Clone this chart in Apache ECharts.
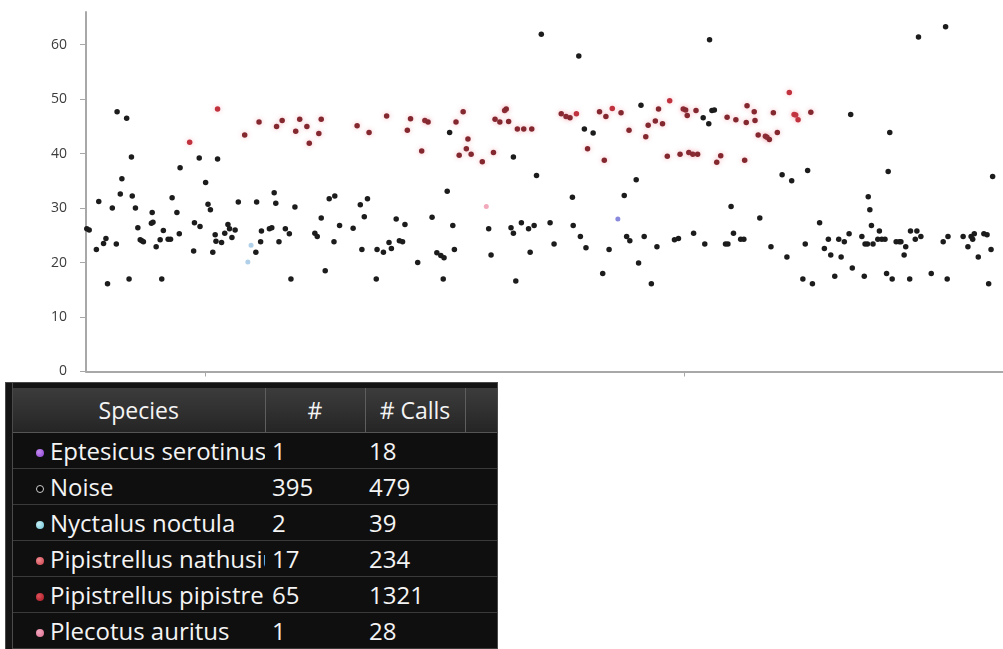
<!DOCTYPE html>
<html>
<head>
<meta charset="utf-8">
<script src="https://cdn.jsdelivr.net/npm/echarts@6/dist/echarts.min.js"></script>
<style>
html,body{margin:0;padding:0;background:#fff;width:1003px;height:649px;overflow:hidden;}
#chart{position:absolute;left:0;top:0;width:1003px;height:649px;}
#tbl{position:absolute;left:5px;top:382px;width:493px;height:280px;background:#141414;border:1px solid #4a4a4a;box-sizing:border-box;overflow:hidden;}
#tbl .edge{position:absolute;left:6px;top:0;width:1px;height:100%;background:#4a4a4a;}
#tbl table{position:absolute;left:7px;top:5px;width:485px;border-collapse:collapse;font-family:"Open Sans","Noto Sans",sans-serif;font-size:24px;color:#f4f4f4;table-layout:fixed;}
#tbl th{height:44px;font-weight:normal;font-size:23px;background:linear-gradient(#3c3c3c,#252525);border-right:1px solid #5e5e5e;border-bottom:1px solid #555;text-align:center;padding:0;overflow:hidden;}
#tbl td{height:35px;border-bottom:1px solid #3a3a3a;padding:0 0 0 7px;white-space:nowrap;overflow:hidden;text-overflow:clip;background:#0f0f0f;line-height:34px;}
#tbl td.sp{padding-left:23px;}
#tbl td.cl{padding-left:4px;}
.dot{display:inline-block;width:8px;height:8px;border-radius:50%;margin-right:6px;vertical-align:3px;}
</style>
</head>
<body>
<div id="chart"></div>
<div id="tbl"><div class="edge"></div></div>
<script>
// ---- scatter data: [minutes since start, peak frequency kHz] ----
const noiseCalls = [
[3.9,47.7],[5.1,46.5],[16.5,39.0],[5.7,39.4],[14.2,39.2],[11.8,37.4],[4.5,35.4],[15.0,34.7],[4.3,32.6],[5.8,32.2],[10.8,31.9],[1.6,31.2],[3.3,30.0],[6.2,30.0],[8.3,29.2],[11.4,29.2],[15.3,30.7],[15.6,29.7],[0.1,26.2],[0.4,26.0],[8.2,27.2],[8.4,27.4],[13.6,27.3],[14.3,26.6],[6.5,26.4],[9.7,25.9],[16.2,25.1],[2.5,24.4],[2.2,23.5],[3.8,23.4],[1.3,22.4],[6.8,24.2],[7.0,24.0],[7.2,23.8],[9.3,24.2],[10.3,24.3],[10.6,24.3],[11.7,25.3],[8.8,22.9],[13.5,22.1],[15.9,21.9],[16.3,23.9],[2.7,16.1],[5.4,17.0],[9.5,17.0],[17.0,23.7],
[19.1,31.1],[21.4,31.1],[23.6,32.8],[23.8,30.9],[26.2,30.2],[29.5,28.2],[30.5,31.7],[31.2,32.2],[31.8,26.8],[17.8,27.0],[18.0,26.2],[17.4,25.4],[18.7,26.0],[18.3,24.6],[22.0,25.8],[23.0,26.2],[23.3,26.4],[21.9,23.8],[24.2,23.8],[25.0,26.2],[25.5,25.3],[28.7,25.4],[29.0,24.8],[31.1,23.8],[21.3,21.9],[25.7,17.0],[30.0,18.5],
[45.6,43.9],[45.3,33.1],[35.3,31.7],[34.4,30.6],[34.9,28.4],[33.5,26.3],[38.9,28.0],[40.0,27.0],[43.4,28.3],[46.0,26.8],[34.6,22.4],[36.5,22.4],[37.3,21.9],[38.0,23.7],[38.3,22.6],[39.3,24.0],[39.7,23.8],[41.6,20.0],[44.0,21.8],[44.5,21.3],[44.9,20.9],[46.2,22.4],[36.4,17.0],[44.8,17.0],
[57.1,61.9],[61.8,57.9],[62.5,44.5],[63.6,43.8],[53.6,39.4],[56.5,36.0],[61.0,32.0],[50.5,26.2],[53.3,26.4],[53.6,25.4],[54.6,27.3],[55.5,26.2],[56.2,26.8],[58.2,27.3],[61.1,26.8],[62.0,24.8],[62.7,22.7],[58.7,23.4],[55.7,21.9],[50.8,21.4],[65.6,22.4],[64.8,18.0],[53.9,16.6],
[78.2,60.9],[69.6,48.9],[78.5,47.9],[78.8,48.0],[77.4,46.6],[78.1,45.5],[69.0,35.2],[67.5,32.3],[80.9,30.3],[67.8,24.8],[68.2,24.0],[70.0,24.8],[71.6,22.9],[73.8,24.2],[74.3,24.4],[76.2,25.4],[77.6,23.4],[80.2,23.4],[80.5,23.4],[81.2,25.4],[82.1,24.3],[82.5,24.3],[69.3,19.9],[70.9,16.1],
[95.9,47.2],[87.3,36.1],[88.5,35.0],[90.5,36.9],[98.1,32.1],[98.3,29.7],[84.5,28.2],[92.0,27.3],[85.9,22.9],[90.2,23.4],[87.9,21.0],[93.1,24.3],[92.6,22.6],[93.4,21.4],[94.4,24.3],[95.1,23.8],[94.7,21.0],[95.7,25.3],[97.3,24.8],[97.7,23.4],[98.0,23.4],[98.7,23.4],[98.5,26.8],[99.3,24.3],[96.1,19.0],[89.9,17.0],[91.1,16.1],[93.9,17.5],[97.6,17.5],
[104.4,61.4],[107.8,63.3],[100.8,43.9],[100.6,36.7],[113.7,35.8],[99.5,25.8],[99.8,24.3],[100.2,24.3],[101.6,23.8],[102.0,23.8],[102.2,23.8],[102.8,22.9],[102.6,21.4],[103.4,25.8],[104.2,25.8],[104.0,24.3],[104.7,24.8],[107.5,23.8],[108.1,24.8],[110.0,24.8],[110.6,22.9],[111.0,24.8],[111.4,25.3],[111.2,24.3],[111.9,21.0],[112.6,25.3],[113.0,25.1],[113.5,22.4],[100.4,18.0],[101.1,17.0],[103.3,17.0],[106.0,18.0],[108.0,17.0],[113.2,16.1]
];
const pipistrellusPipistrellusCalls = [
[21.7,45.8],[19.9,43.4],[23.9,45.0],[24.6,46.1],[26.8,46.3],[26.3,44.1],[27.7,45.0],[29.5,46.3],[29.2,43.7],[28.0,41.9],
[34.0,45.1],[35.5,43.9],[37.7,46.9],[40.7,46.4],[40.3,44.3],[42.5,46.1],[42.9,45.8],[42.1,40.5],[47.3,47.7],[46.4,45.8],[47.9,42.7],[47.7,40.9],[48.3,39.9],[46.8,39.7],[49.7,38.5],
[52.5,47.9],[52.7,48.2],[51.3,46.3],[51.9,45.8],[53.0,45.9],[54.1,44.5],[54.9,44.5],[55.9,44.5],[59.6,47.3],[60.2,46.8],[60.7,46.6],[62.9,40.9],[64.4,47.7],[65.2,46.8],[65.0,38.8],[51.1,40.2],
[67.1,47.5],[71.8,48.2],[74.9,48.2],[75.2,48.0],[75.4,47.0],[76.5,47.9],[80.4,46.7],[81.5,46.2],[82.8,45.7],[82.9,48.8],[71.4,46.0],[72.3,45.5],[70.5,45.2],[68.1,44.3],[70.2,43.1],[72.9,39.5],[74.5,39.9],[75.6,40.2],[76.1,39.9],[76.7,39.9],[79.6,39.6],[79.1,38.4],[82.6,38.8],
[83.8,47.7],[83.9,46.1],[86.2,47.5],[90.9,47.6],[84.3,43.4],[85.2,43.2],[85.4,43.0],[85.7,42.6],[86.7,43.9]
];
const pipistrellusNathusiusCalls = [[13.0,42.1],[16.5,48.2],[61.5,47.3],[66.0,48.3],[73.2,49.7],[88.2,51.2],[88.8,47.2],[89.0,47.1],[89.3,46.2]];
const nyctalusCalls = [[20.3,20.1],[20.7,23.2]];
const eptesicusCalls = [[66.7,28.0]];
const plecotusCalls = [[50.2,30.3]];

// ---- axis ticks ----
const yTickValues = [0,10,20,30,40,50,60];
const xTickValues = [15,75];

// ---- summary table ----
const speciesNames = ["Eptesicus serotinus","Noise","Nyctalus noctula","Pipistrellus nathusius","Pipistrellus pipistrellus","Plecotus auritus"];
const speciesCounts = [1,395,2,17,65,1];
const speciesCallCounts = [18,479,39,234,1321,28];
const tableHeaders = ["Species","#","# Calls",""];

// styles (kept apart from data)
const speciesDotStyles = [
  "background:radial-gradient(circle at 35% 35%,#c48cf0,#8a3fd0);",
  "background:#000;border:1px solid #cfcfcf;box-sizing:border-box;",
  "background:radial-gradient(circle at 35% 35%,#c6eef5,#6cc4d6);",
  "background:radial-gradient(circle at 35% 35%,#f08a90,#c8404a);",
  "background:radial-gradient(circle at 35% 35%,#e0505a,#a01822);",
  "background:radial-gradient(circle at 35% 35%,#f4a8c0,#d86a8c);"
];
const colWidths = [252,100,100,33];

// build table
let html = '<table><colgroup>' + colWidths.map(w=>'<col style="width:'+w+'px">').join('') + '</colgroup><tr>' +
  tableHeaders.map(h=>'<th>'+h+'</th>').join('') + '</tr>';
speciesNames.forEach((n,i)=>{
  html += '<tr><td class="sp"><span class="dot" style="'+speciesDotStyles[i]+'"></span>'+n+'</td><td>'+speciesCounts[i]+'</td><td class="cl">'+speciesCallCounts[i]+'</td><td></td></tr>';
});
html += '</table>';
document.getElementById('tbl').insertAdjacentHTML('beforeend', html);

const chart = echarts.init(document.getElementById('chart'), null, {renderer:'canvas'});
const axisGrey = '#a8a8a8';
function sc(name, data, color, size, opacity, halo){
  return {name, type:'scatter', data, symbol:'circle', symbolSize:size, clip:false,
    itemStyle:{color, opacity: opacity==null?1:opacity, shadowBlur: halo?5:0, shadowColor: halo||'transparent'},
    emphasis:{disabled:true}, animation:false};
}
chart.setOption({
  animation:false,
  backgroundColor:'#ffffff',
  grid:{left:86, top:12, width:928, height:359.5, containLabel:false},
  xAxis:{type:'value', min:0, max:115,
    axisLine:{show:true, lineStyle:{color:axisGrey, width:2}},
    axisTick:{show:true, customValues:xTickValues, length:5, lineStyle:{color:axisGrey, width:1}},
    axisLabel:{show:false}, splitLine:{show:false}},
  yAxis:{type:'value', min:0, max:66,
    axisLine:{show:true, lineStyle:{color:axisGrey, width:2}},
    axisTick:{show:true, customValues:yTickValues, length:6, lineStyle:{color:axisGrey, width:1}},
    axisLabel:{show:true, customValues:yTickValues, margin:19, color:'#3c3c3c', fontSize:14, fontFamily:'Open Sans'},
    splitLine:{show:false}},
  series:[
    sc('Noise', noiseCalls, '#1c1c1c', 5.5),
    sc('Pipistrellus pipistrellus', pipistrellusPipistrellusCalls, '#842830', 5.5, 1, 'rgba(230,90,110,0.45)'),
    sc('Pipistrellus nathusius', pipistrellusNathusiusCalls, '#c0323e', 5.5, 1, 'rgba(240,110,130,0.45)'),
    sc('Nyctalus noctula', nyctalusCalls, '#9cc4e4', 5, 0.8),
    sc('Eptesicus serotinus', eptesicusCalls, '#7474d8', 5, 0.85),
    sc('Plecotus auritus', plecotusCalls, '#f0a0b4', 5, 0.9)
  ]
});
</script>
</body>
</html>
